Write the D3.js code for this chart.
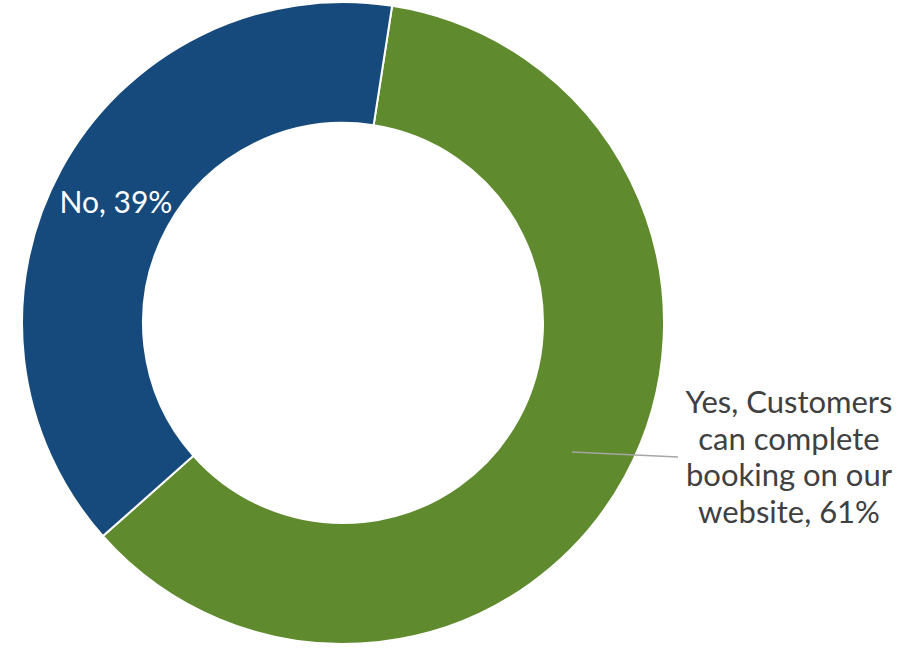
<!DOCTYPE html>
<html>
<head>
<meta charset="utf-8">
<script src="https://cdn.jsdelivr.net/npm/d3@7"></script>
<style>
  html, body { margin: 0; padding: 0; background: #fff; }
  svg { display: block; }
</style>
</head>
<body>
<svg id="chart" width="923" height="648"></svg>
<script>
// Survey answers and their shares (percent)
const categories = ["Yes, Customers can complete booking on our website", "No"];
const values = [61, 39];
const colors = ["#5f8a2e", "#174a7c"];

const width = 923, height = 648;
const cx = 343, cy = 323;
const outerR = 321, innerR = 200;
const startAngle = 8.8 * Math.PI / 180;

const svg = d3.select("#chart");
const g = svg.append("g").attr("transform", `translate(${cx},${cy})`);

const pie = d3.pie()
  .sort(null)
  .value(d => d)
  .startAngle(startAngle)
  .endAngle(startAngle + 2 * Math.PI);

const arcs = pie(values);
const arc = d3.arc().innerRadius(innerR).outerRadius(outerR);

g.selectAll("path.slice")
  .data(arcs)
  .join("path")
  .attr("class", "slice")
  .attr("d", arc)
  .attr("fill", (d, i) => colors[i])
  .attr("stroke", "#fff")
  .attr("stroke-width", 2);

const font = "'Gill Sans', 'Gill Sans MT', Lato, 'Open Sans', sans-serif";

// "No" label inside the blue ring
g.append("text")
  .attr("x", 116 - cx)
  .attr("y", 213 - cy)
  .attr("text-anchor", "middle")
  .attr("fill", "#fff")
  .attr("font-family", font)
  .attr("font-size", 30)
  .text(`${categories[1]}, ${values[1]}%`);

// Leader line from the green slice to its label
svg.append("polyline")
  .attr("points", `572,452 678,457`)
  .attr("fill", "none")
  .attr("stroke", "#a6a6a6")
  .attr("stroke-width", 1.5);

// Multi-line "Yes" label
const yesLines = ["Yes, Customers", "can complete", "booking on our", `website, ${values[0]}%`];
const yesText = svg.append("text")
  .attr("text-anchor", "middle")
  .attr("fill", "#404040")
  .attr("font-family", font)
  .attr("font-size", 31);
yesLines.forEach((t, i) => {
  yesText.append("tspan")
    .attr("x", 789)
    .attr("y", 413 + i * 36.5)
    .text(t);
});
</script>
</body>
</html>
